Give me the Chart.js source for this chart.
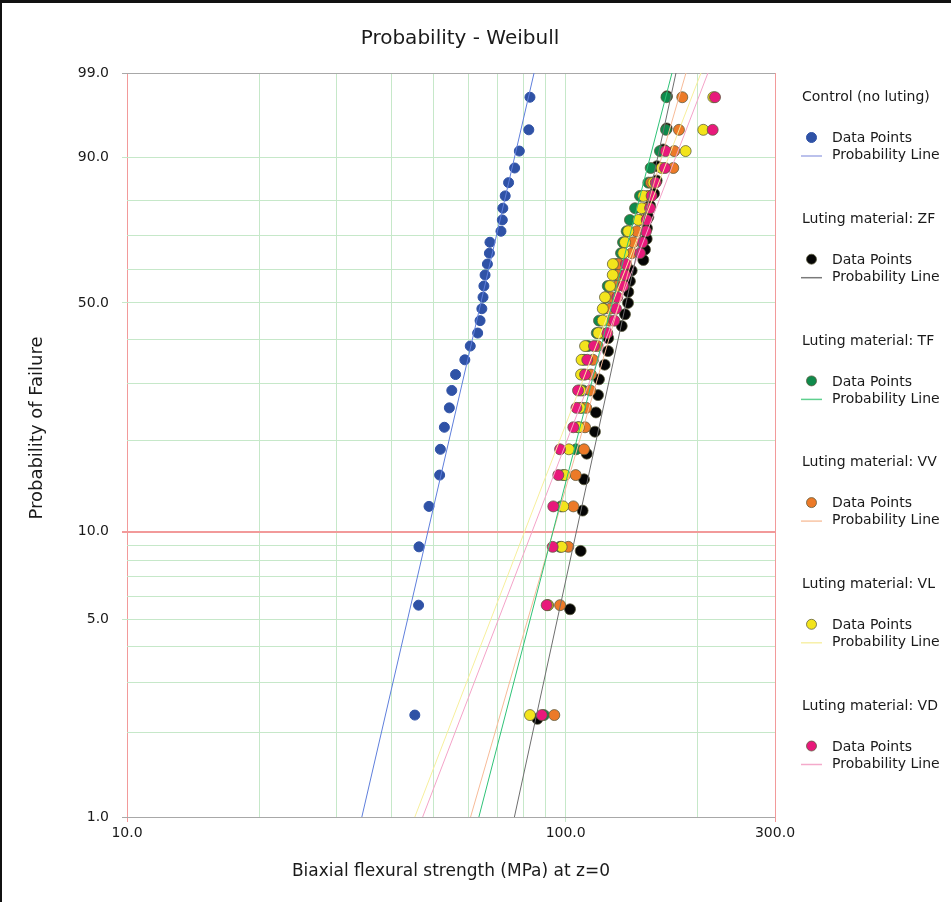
<!DOCTYPE html>
<html>
<head>
<meta charset="utf-8">
<title>Probability - Weibull</title>
<script src="https://cdn.jsdelivr.net/npm/chart.js@4.4.1/dist/chart.umd.min.js"></script>
<style>
  html, body { margin: 0; padding: 0; background: #fff; }
  #wrap { position: relative; width: 951px; height: 902px; }
</style>
</head>
<body>
<div id="wrap"><canvas id="weibullChart" width="951" height="902"></canvas></div>
<script>
// Probability axis (percent) and strength axis (MPa)
const probTicks = [1, 2, 3, 4, 5, 6, 7, 8, 9, 10, 20, 30, 40, 50, 60, 70, 80, 90, 99];
const probLabels = [1, 5, 10, 50, 90, 99];
const strengthTicks = [10, 20, 30, 40, 50, 60, 70, 80, 90, 100, 200, 300];
const strengthLabels = [10, 100, 300];

// plotting positions (% failed) for samples of 30 and 31 specimens
const rank30 = [2.30, 5.59, 8.88, 12.17, 15.46, 18.75, 22.04, 25.33, 28.62, 31.91,
  35.20, 38.49, 41.78, 45.07, 48.36, 51.64, 54.93, 58.22, 61.51, 64.80,
  68.09, 71.38, 74.67, 77.96, 81.25, 84.54, 87.83, 91.12, 94.41, 97.70];
const rank31 = [2.23, 5.41, 8.60, 11.78, 14.97, 18.15, 21.34, 24.52, 27.71, 30.89,
  34.08, 37.26, 40.45, 43.63, 46.82, 50.00, 53.18, 56.37, 59.55, 62.74,
  65.92, 69.11, 72.29, 75.48, 78.66, 81.85, 85.03, 88.22, 91.40, 94.59, 97.77];

// biaxial flexural strength (MPa), sorted
const controlStrength = [45.3, 46.2, 46.3, 48.8, 51.6, 51.8, 52.9, 54.3, 55.0, 56.1,
  58.9, 60.6, 63.0, 63.8, 64.4, 64.8, 65.1, 65.5, 66.3, 67.0,
  67.2, 71.2, 71.7, 71.9, 72.8, 74.1, 76.5, 78.4, 82.4, 82.9];
const zfStrength = [86.2, 102.3, 108.2, 109.3, 110.1, 111.7, 116.6, 117.2, 118.5, 119.1,
  122.7, 124.9, 125.0, 134.2, 136.5, 138.7, 138.9, 140.1, 141.4, 150.3,
  151.6, 153.0, 153.2, 154.3, 155.7, 159.0, 161.2, 161.5, 166.9, 169.9, 170.2];
const tfStrength = [89.2, 91.1, 97.1, 97.6, 98.6, 105.6, 106.7, 108.9, 109.5, 109.8,
  110.1, 112.4, 117.7, 119.1, 122.3, 123.6, 124.7, 129.5, 130.2, 133.7,
  135.1, 137.7, 140.1, 143.9, 147.7, 154.3, 156.2, 164.0, 169.3, 169.7];
const vvStrength = [94.2, 97.1, 101.4, 104.1, 105.4, 110.1, 110.7, 111.4, 113.8, 114.2,
  115.4, 118.2, 120.8, 125.7, 126.2, 127.3, 131.1, 131.8, 132.0, 141.4,
  142.6, 145.2, 148.5, 151.6, 154.0, 156.5, 175.9, 176.8, 181.2, 184.4];
const vlStrength = [82.9, 91.1, 97.9, 98.7, 99.6, 101.7, 107.2, 107.8, 108.1, 108.4,
  108.7, 110.7, 118.7, 121.4, 121.5, 122.9, 126.2, 128.0, 128.1, 135.3,
  136.5, 138.9, 146.4, 149.0, 150.3, 158.4, 165.5, 187.7, 205.9, 217.0];
const vdStrength = [88.2, 90.5, 93.4, 93.7, 96.2, 97.1, 104.1, 105.8, 106.7, 110.7,
  112.0, 116.0, 124.4, 129.1, 130.2, 131.1, 135.3, 136.5, 137.2, 147.7,
  149.6, 152.4, 153.0, 155.7, 157.0, 160.4, 168.4, 169.0, 216.3, 219.0];

// fitted probability lines: strength at 1 % and at 99 %
const lineProb = [1, 99];
const controlLine = [34.3, 84.7];
const zfLine = [76.4, 178.4];
const tfLine = [63.4, 174.7];
const vvLine = [60.7, 188.0];
const vlLine = [45.3, 203.4];
const vdLine = [47.2, 211.0];

const FONT = '"DejaVu Sans", Verdana, sans-serif';

const groups = [
  { name: 'Control (no luting)', x: controlStrength, p: rank30, line: controlLine, dot: '#2f52a6', stroke: '#5f7fdc', key: '#a4ace6' },
  { name: 'Luting material: ZF', x: zfStrength, p: rank31, line: zfLine, dot: '#050505', stroke: '#6e6e6e', key: '#7a7a7a' },
  { name: 'Luting material: TF', x: tfStrength, p: rank30, line: tfLine, dot: '#0f8a4c', stroke: '#2fc277', key: '#5fd08f' },
  { name: 'Luting material: VV', x: vvStrength, p: rank30, line: vvLine, dot: '#ec7a28', stroke: '#f7bb98', key: '#f8c4a4' },
  { name: 'Luting material: VL', x: vlStrength, p: rank30, line: vlLine, dot: '#f3e41c', stroke: '#f7ef9c', key: '#f7f0a8' },
  { name: 'Luting material: VD', x: vdStrength, p: rank30, line: vdLine, dot: '#e8197b', stroke: '#f4a3c8', key: '#f4aacb' }
];

// Weibull probability scale: ln(-ln(1 - F))
function weibullTransform(p) {
  return Math.log(-Math.log(1 - p / 100));
}

class WeibullScale extends Chart.Scale {
  determineDataLimits() {
    this.min = this.options.min;
    this.max = this.options.max;
  }
  buildTicks() {
    return probTicks.map(v => ({ value: v }));
  }
  configure() {
    super.configure();
    this._startValue = weibullTransform(this.min);
    this._valueRange = weibullTransform(this.max) - this._startValue;
  }
  getLabelForValue(value) {
    return String(value);
  }
  getPixelForValue(value) {
    return this.getPixelForDecimal((weibullTransform(value) - this._startValue) / this._valueRange);
  }
  getValueForPixel(pixel) {
    const t = this._startValue + this.getDecimalForPixel(pixel) * this._valueRange;
    return 100 * (1 - Math.exp(-Math.exp(t)));
  }
}
WeibullScale.id = 'weibull';
WeibullScale.defaults = {};
Chart.register(WeibullScale);

const datasets = [];
groups.forEach((g, i) => {
  datasets.push({
    label: g.name + ' line',
    data: g.line.map((x, k) => ({ x: x, y: lineProb[k] })),
    showLine: true,
    borderColor: g.stroke,
    borderWidth: 1,
    pointRadius: 0,
    fill: false,
    order: 0
  });
  datasets.push({
    label: g.name,
    data: g.x.map((x, k) => ({ x: x, y: g.p[k] })),
    showLine: false,
    backgroundColor: g.dot,
    borderColor: i === 0 ? g.dot : 'rgba(90, 90, 60, 0.75)',
    borderWidth: 1,
    pointRadius: i === 0 ? 5 : 5.5,
    order: 10 - i
  });
});

const RED = '#f29a9a';
function yGridColor(ctx) {
  const v = ctx.tick && ctx.tick.value;
  if (v === 10) return RED;
  if (v === 1 || v === 99) return '#a8a8a8';
  return '#c6e8c9';
}
function yGridWidth(ctx) {
  return ctx.tick && ctx.tick.value === 10 ? 2 : 1;
}
function xGridColor(ctx) {
  const v = ctx.tick && ctx.tick.value;
  if (v === 10 || v === 300) return RED;
  return '#c6e8c9';
}

const framePlugin = {
  id: 'frameAndLegend',
  afterDraw(chart) {
    const ctx = chart.ctx;
    ctx.save();
    // title
    ctx.fillStyle = '#1a1a1a';
    ctx.font = '20px ' + FONT;
    ctx.textAlign = 'center';
    ctx.textBaseline = 'middle';
    ctx.fillText('Probability - Weibull', 460, 39);

    // y axis title
    ctx.save();
    ctx.translate(37, 428);
    ctx.rotate(-Math.PI / 2);
    ctx.font = '18px ' + FONT;
    ctx.fillText('Probability of Failure', 0, 0);
    ctx.restore();

    // side legend
    ctx.font = '14px ' + FONT;
    ctx.textAlign = 'left';
    groups.forEach((g, i) => {
      const top = 97.5 + i * 121.7;
      ctx.fillStyle = '#1a1a1a';
      ctx.fillText(g.name, 802, top);
      ctx.fillText('Data Points', 832, top + 41);
      ctx.fillText('Probability Line', 832, top + 58);
      ctx.beginPath();
      ctx.arc(811.5, top + 40, 5, 0, Math.PI * 2);
      ctx.fillStyle = g.dot;
      ctx.fill();
      ctx.strokeStyle = i === 0 ? g.dot : 'rgba(90, 90, 60, 0.75)';
      ctx.lineWidth = 1;
      ctx.stroke();
      ctx.beginPath();
      ctx.moveTo(801, top + 58.5);
      ctx.lineTo(822, top + 58.5);
      ctx.strokeStyle = g.key;
      ctx.lineWidth = 1.5;
      ctx.stroke();
    });

    // outer frame
    ctx.fillStyle = '#111';
    ctx.fillRect(0, 0, chart.width, 3);
    ctx.fillRect(0, 0, 2, chart.height);
    ctx.restore();
  }
};

new Chart(document.getElementById('weibullChart'), {
  type: 'scatter',
  data: { datasets: datasets },
  options: {
    responsive: false,
    animation: false,
    events: [],
    layout: { padding: { top: 73, right: 176, bottom: 0, left: 0 } },
    plugins: {
      legend: { display: false },
      title: { display: false },
      tooltip: { enabled: false }
    },
    scales: {
      x: {
        type: 'logarithmic',
        min: 10,
        max: 300,
        afterBuildTicks: scale => { scale.ticks = strengthTicks.map(v => ({ value: v })); },
        afterFit: scale => { scale.height = 85; },
        border: { display: false },
        grid: {
          color: xGridColor,
          lineWidth: 1,
          tickLength: 5,
          tickColor: ctx => strengthLabels.includes(ctx.tick.value) ? xGridColor(ctx) : 'rgba(0,0,0,0)'
        },
        ticks: {
          autoSkip: false,
          maxRotation: 0,
          padding: 3,
          color: '#1a1a1a',
          font: { family: FONT, size: 14 },
          callback: v => strengthLabels.includes(v) ? v.toFixed(1) : ''
        },
        title: {
          display: true,
          text: 'Biaxial flexural strength (MPa) at z=0',
          color: '#1a1a1a',
          font: { family: FONT, size: 17 },
          padding: { top: 0, bottom: 20 }
        }
      },
      y: {
        type: 'weibull',
        position: 'left',
        min: 1,
        max: 99,
        afterFit: scale => { scale.width = 127; },
        border: { display: false },
        grid: {
          color: yGridColor,
          lineWidth: yGridWidth,
          tickLength: 5,
          tickColor: ctx => probLabels.includes(ctx.tick.value) ? yGridColor(ctx) : 'rgba(0,0,0,0)'
        },
        ticks: {
          autoSkip: false,
          padding: 13,
          color: '#1a1a1a',
          font: { family: FONT, size: 14 },
          callback: v => probLabels.includes(v) ? v.toFixed(1) : ''
        },
        title: { display: false }
      }
    }
  },
  plugins: [framePlugin]
});
</script>
</body>
</html>
